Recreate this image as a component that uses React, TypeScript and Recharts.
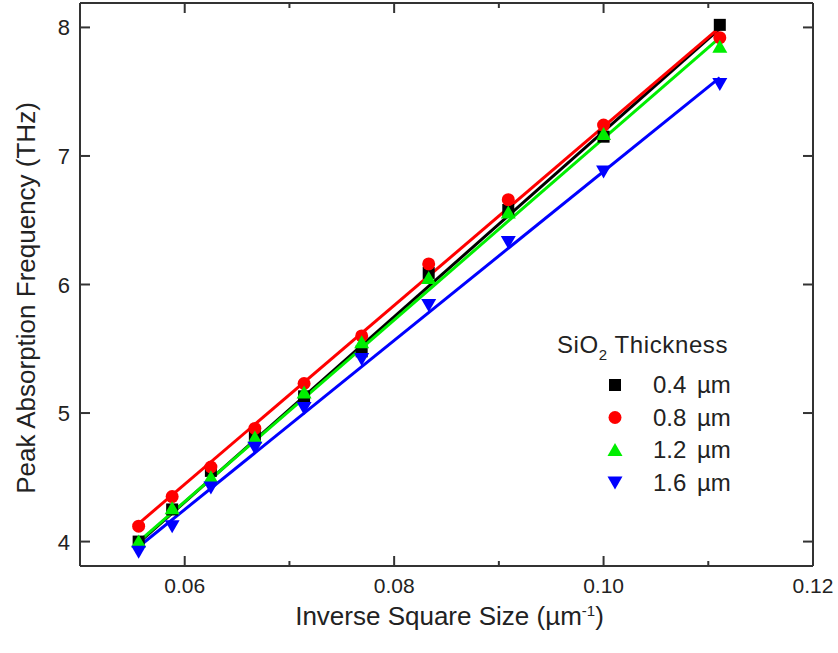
import { ComposedChart, Line, Scatter, XAxis, YAxis } from 'recharts';

// inverse square size (1/µm), one per square size
const inverseSize = [0.0556, 0.0588, 0.0625, 0.0667, 0.0714, 0.0769, 0.0833, 0.0909, 0.1, 0.1111];

// peak absorption frequency (THz) for each SiO2 thickness
const freq04 = [4.0, 4.25, 4.55, 4.83, 5.13, 5.48, 6.09, 6.58, 7.15, 8.02];
const freq08 = [4.12, 4.35, 4.58, 4.88, 5.23, 5.6, 6.16, 6.66, 7.24, 7.92];
const freq12 = [4.0, 4.26, 4.5, 4.81, 5.16, 5.55, 6.05, 6.56, 7.17, 7.85];
const freq16 = [3.92, 4.12, 4.42, 4.73, 5.04, 5.42, 5.84, 6.33, 6.88, 7.56];

// linear fit ends
const fitX = [0.0556, 0.1111];
const fit04 = [3.99, 7.99];
const fit08 = [4.14, 8.0];
const fit12 = [4.0, 7.92];
const fit16 = [3.96, 7.61];

const xTicks = [0.05, 0.06, 0.07, 0.08, 0.09, 0.1, 0.11, 0.12];
const yTicks = [4, 5, 6, 7, 8];
const thicknessLabels = ['0.4 µm', '0.8 µm', '1.2 µm', '1.6 µm'];

const colors = ['#000000', '#ff0000', '#00ee00', '#0000ff'];
const FONT = 'Arial, "Liberation Sans", Helvetica, sans-serif';
const AXIS = '#333333';

const toPoints = (xs: number[], ys: number[]) => xs.map((x, i) => ({ x, y: ys[i] }));

const series = [freq04, freq08, freq12, freq16].map((ys) => toPoints(inverseSize, ys));
const fits = [fit04, fit08, fit12, fit16].map((ys) => toPoints(fitX, ys));

const Marker = ({ kind, cx, cy, color }: { kind: number; cx: number; cy: number; color: string }) => {
  if (kind === 0) return <rect x={cx - 6} y={cy - 6} width={12} height={12} fill={color} />;
  if (kind === 1) return <circle cx={cx} cy={cy} r={6.5} fill={color} />;
  if (kind === 2) return <path d={`M${cx},${cy - 7} L${cx + 7.5},${cy + 6} L${cx - 7.5},${cy + 6} Z`} fill={color} />;
  return <path d={`M${cx},${cy + 7} L${cx + 7.5},${cy - 6} L${cx - 7.5},${cy - 6} Z`} fill={color} />;
};

const BottomTick = ({ x, y, payload }: any) => {
  const v = payload.value;
  const major = Math.round(v * 100) % 2 === 0;
  return (
    <g>
      <line x1={x} x2={x} y1={y} y2={y - (major ? 10 : 5)} stroke={AXIS} strokeWidth={2} />
      {major && v > 0.051 && (
        <text x={x} y={y + 27} textAnchor="middle" fontSize={21} fontFamily={FONT} fill="#222">
          {v.toFixed(2)}
        </text>
      )}
    </g>
  );
};

const TopTick = ({ x, y, payload }: any) => {
  const major = Math.round(payload.value * 100) % 2 === 0;
  return <line x1={x} x2={x} y1={y} y2={y + (major ? 10 : 5)} stroke={AXIS} strokeWidth={2} />;
};

const LeftTick = ({ x, y, payload }: any) => (
  <g>
    <line x1={x} x2={x + 10} y1={y} y2={y} stroke={AXIS} strokeWidth={2} />
    <text x={x - 10} y={y + 8} textAnchor="end" fontSize={22} fontFamily={FONT} fill="#222">
      {payload.value}
    </text>
  </g>
);

const RightTick = ({ x, y }: any) => <line x1={x} x2={x - 10} y1={y} y2={y} stroke={AXIS} strokeWidth={2} />;

const XLabel = ({ viewBox }: any) => (
  <text x={viewBox.x + viewBox.width / 2 + 3} y={625} textAnchor="middle" fontSize={26} fontFamily={FONT} fill="#222">
    Inverse Square Size (µm
    <tspan dy={-9} fontSize={15}>-1</tspan>
    <tspan dy={9}>)</tspan>
  </text>
);

const YLabel = () => (
  <text
    x={0}
    y={0}
    transform="translate(35, 298) rotate(-90)"
    textAnchor="middle"
    fontSize={26}
    fontFamily={FONT}
    fill="#222"
  >
    Peak Absorption Frequency (THz)
  </text>
);

const ThicknessLegend = () => (
  <svg width={270} height={175} style={{ position: 'absolute', left: 550, top: 325, overflow: 'visible' }}>
    <text x={7} y={28} fontSize={24} fontFamily={FONT} fill="#222" letterSpacing={0.6}>
      SiO<tspan dy={7} fontSize={15}>2</tspan>
      <tspan dy={-7}> Thickness</tspan>
    </text>
    {thicknessLabels.map((label, i) => (
      <g key={label}>
        <Marker kind={i} cx={65} cy={60 + i * 32.5} color={colors[i]} />
        <text x={103} y={68 + i * 32.5} fontSize={24} fontFamily={FONT} fill="#222" wordSpacing={4}>
          {label}
        </text>
      </g>
    ))}
  </svg>
);

export default function App() {
  return (
    <div style={{ position: 'absolute', left: 0, top: 0, width: 838, height: 653, background: '#fff' }}>
      <ComposedChart width={838} height={653} margin={{ top: 2, right: 24, bottom: 0, left: 0 }}>
        <XAxis
          dataKey="x"
          type="number"
          domain={[0.05, 0.12]}
          ticks={xTicks}
          allowDataOverflow
          height={87}
          stroke={AXIS}
          strokeWidth={2}
          tickLine={false}
          tickSize={0}
          tickMargin={0}
          tick={<BottomTick />}
          interval={0}
          label={<XLabel />}
        />
        <XAxis
          xAxisId="top"
          dataKey="x"
          orientation="top"
          type="number"
          domain={[0.05, 0.12]}
          ticks={xTicks}
          allowDataOverflow
          height={1}
          stroke={AXIS}
          strokeWidth={2}
          tickLine={false}
          tickSize={0}
          tickMargin={0}
          tick={<TopTick />}
          interval={0}
        />
        <YAxis
          dataKey="y"
          type="number"
          domain={[3.81, 8.19]}
          ticks={yTicks}
          allowDataOverflow
          width={80}
          stroke={AXIS}
          strokeWidth={2}
          tickLine={false}
          tickSize={0}
          tickMargin={0}
          tick={<LeftTick />}
          interval={0}
          label={<YLabel />}
        />
        <YAxis
          yAxisId="right"
          dataKey="y"
          orientation="right"
          type="number"
          domain={[3.81, 8.19]}
          ticks={yTicks}
          allowDataOverflow
          width={1}
          stroke={AXIS}
          strokeWidth={2}
          tickLine={false}
          tickSize={0}
          tickMargin={0}
          tick={<RightTick />}
          interval={0}
        />
        {/* binds the frame axes so they get their ticks */}
        <Line
          xAxisId="top"
          yAxisId="right"
          data={fits[0]}
          dataKey="y"
          stroke="none"
          dot={false}
          activeDot={false}
          isAnimationActive={false}
        />
        {[0, 2, 3, 1].map((i) => (
          <Line
            key={`fit-${i}`}
            data={fits[i]}
            dataKey="y"
            type="linear"
            stroke={colors[i]}
            strokeWidth={3}
            dot={false}
            activeDot={false}
            isAnimationActive={false}
          />
        ))}
        {[0, 1, 2, 3].map((i) => (
          <Scatter
            key={`pts-${i}`}
            data={series[i]}
            fill={colors[i]}
            isAnimationActive={false}
            shape={(p: any) => <Marker kind={i} cx={p.cx} cy={p.cy} color={colors[i]} />}
          />
        ))}
      </ComposedChart>
      <ThicknessLegend />
    </div>
  );
}
